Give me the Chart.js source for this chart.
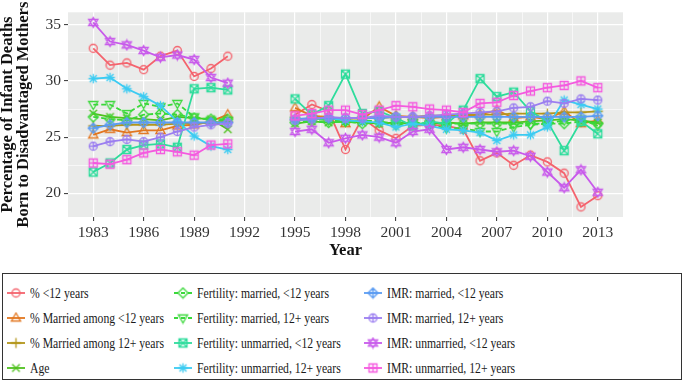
<!DOCTYPE html>
<html>
<head>
<meta charset="utf-8">
<script src="https://cdn.jsdelivr.net/npm/chart.js@4.4.1/dist/chart.umd.min.js"></script>
<style>
body { margin: 0; background: #fff; font-family: "Liberation Serif", serif; }
#wrap { position: relative; width: 685px; height: 382px; }
#chartBox { position: absolute; left: 0; top: 0; width: 685px; height: 270px; }
#legend { position: absolute; left: 2px; top: 273px; width: 680px; height: 107px; border: 1px solid #333; box-sizing: border-box; }
.item { position: absolute; height: 20px; display: flex; align-items: center; white-space: nowrap; }
.item canvas { margin-right: 5px; }
.item span { display: inline-block; font-size: 15px; color: #1a1a1a; transform: scaleX(0.78); transform-origin: left center; }
</style>
</head>
<body>
<div id="wrap">
  <div id="chartBox"><canvas id="chart"></canvas></div>
  <div id="legend"></div>
</div>
<script>
// years on the x axis (no data for 1992-1994)
const years = [1983,1984,1985,1986,1987,1988,1989,1990,1991,1992,1993,1994,1995,1996,1997,1998,1999,2000,2001,2002,2003,2004,2005,2006,2007,2008,2009,2010,2011,2012,2013];

const seriesNames = [
  '% <12 years',
  '% Married among <12 years',
  '% Married among 12+ years',
  'Age',
  'Fertility: married, <12 years',
  'Fertility: married, 12+ years',
  'Fertility: unmarried, <12 years',
  'Fertility: unmarried, 12+ years',
  'IMR: married, <12 years',
  'IMR: married, 12+ years',
  'IMR: unmarried, <12 years',
  'IMR: unmarried, 12+ years'
];

// values
const pctUnder12      = [32.9,31.4,31.6,31.0,32.2,32.7,30.4,31.1,32.2, null,null,null, 27.0,27.9,27.3,23.9,26.7,25.6,24.9,26.0,26.1,26.0,25.7,22.9,23.6,22.5,23.4,22.8,21.8,18.8,19.8];
const marriedUnder12  = [25.2,25.7,25.4,25.6,25.6,26.0,26.1,26.4,27.0, null,null,null, 27.6,26.9,26.8,26.2,26.6,27.7,26.9,26.8,26.7,26.8,26.9,27.0,27.4,26.7,26.8,26.6,27.3,26.2,26.5];
const married12plus   = [26.0,26.0,26.1,26.1,26.1,26.2,26.2,26.3,26.4, null,null,null, 26.5,26.6,26.6,26.6,26.7,26.7,26.8,26.8,26.9,26.9,27.0,27.0,27.0,27.1,27.1,27.1,27.2,27.2,27.3];
const age             = [27.1,26.8,26.7,26.6,26.5,26.8,26.7,26.6,25.7, null,null,null, 26.2,26.4,26.3,26.4,26.3,26.2,26.3,26.2,26.2,26.3,26.2,26.3,26.3,26.3,26.4,26.5,26.6,26.5,26.3];
const fertMarUnder12  = [26.8,26.6,26.5,27.0,27.1,27.0,26.7,26.6,26.6, null,null,null, 26.3,26.4,26.3,26.4,26.2,26.3,26.1,26.3,26.2,26.2,26.2,26.2,26.2,26.2,26.2,26.2,26.2,26.4,26.2];
const fertMar12plus   = [27.9,27.9,27.1,28.0,27.7,28.0,26.8,26.5,26.5, null,null,null, 26.5,26.6,26.5,26.4,26.5,26.4,26.2,26.3,26.1,25.8,25.8,25.5,25.5,25.9,26.1,26.2,26.5,26.6,26.0];
const fertUnmUnder12  = [21.9,22.7,23.9,24.3,24.4,24.1,29.3,29.4,29.2, null,null,null, 28.4,27.0,27.8,30.6,27.1,27.3,26.7,26.0,26.4,26.2,27.4,30.2,28.6,29.0,27.3,26.4,23.8,26.4,25.3];
const fertUnm12plus   = [30.2,30.3,29.3,28.6,27.8,26.4,25.1,24.2,23.9, null,null,null, 26.5,26.6,26.7,26.5,26.4,26.3,25.9,26.2,26.0,25.7,25.6,25.4,24.7,25.2,25.2,25.9,28.3,27.9,27.5];
const imrMarUnder12   = [25.8,26.1,26.3,26.3,26.3,26.3,26.3,26.3,26.3, null,null,null, 26.6,26.7,26.7,26.7,26.7,26.7,26.8,26.8,26.8,26.8,26.8,26.8,26.8,26.8,26.8,26.8,26.8,26.8,26.9];
const imrMar12plus    = [24.2,24.6,24.8,24.6,25.0,25.5,25.9,26.1,26.2, null,null,null, 26.5,26.6,26.8,26.7,26.7,26.9,26.8,26.8,26.9,27.0,27.1,27.2,27.3,27.6,27.7,28.2,28.0,28.4,28.3];
const imrUnmUnder12   = [35.2,33.5,33.2,32.7,32.1,32.3,31.9,30.3,29.8, null,null,null, 25.5,25.7,24.5,24.9,25.2,25.0,24.5,25.5,25.7,23.9,24.1,23.9,23.7,23.8,23.3,21.9,20.5,22.1,20.1];
const imrUnm12plus    = [22.7,22.6,23.0,23.6,23.9,23.7,23.4,24.3,24.4, null,null,null, 26.9,27.1,27.4,27.4,27.0,27.4,27.8,27.7,27.5,27.4,27.2,28.0,28.1,28.7,29.1,29.4,29.6,30.0,29.4];

const seriesValues = [pctUnder12, marriedUnder12, married12plus, age, fertMarUnder12, fertMar12plus,
  fertUnmUnder12, fertUnm12plus, imrMarUnder12, imrMar12plus, imrUnmUnder12, imrUnm12plus];

const xTickLabels = [1983,1986,1989,1992,1995,1998,2001,2004,2007,2010,2013];
const xMinorTicks = [1984.5,1987.5,1990.5,1993.5,1996.5,1999.5,2002.5,2005.5,2008.5,2011.5];
const yTickLabels = [20,25,30,35];
const yMinorTicks = [22.5,27.5,32.5];

// styles
const colors = ['#F4636D','#E2761F','#B3961B','#4FC11D','#3AD83A','#3AD83A','#2EDC9C','#3CCBF2','#5B9CF2','#9B7EF0','#C85AEB','#F45ADF'];
const shapes = ['circle','triUp','plus','cross','diamond','triDown','squareX','asterisk','diamondPlus','circlePlus','star','squarePlus'];
const dashed = [false,false,false,false,true,true,false,false,false,false,false,false];

function shapeCanvas(kind, color) {
  const c = document.createElement('canvas');
  c.width = 13; c.height = 13;
  const g = c.getContext('2d');
  const m = 6.5;
  g.strokeStyle = color;
  g.lineWidth = 1.3;
  g.beginPath();
  const plus = r => { g.moveTo(m - r, m); g.lineTo(m + r, m); g.moveTo(m, m - r); g.lineTo(m, m + r); };
  const cross = r => { g.moveTo(m - r, m - r); g.lineTo(m + r, m + r); g.moveTo(m + r, m - r); g.lineTo(m - r, m + r); };
  const circle = r => { g.moveTo(m + r, m); g.arc(m, m, r, 0, Math.PI * 2); };
  const triUp = () => { g.moveTo(m, m - 5); g.lineTo(m + 4.6, m + 3); g.lineTo(m - 4.6, m + 3); g.closePath(); };
  const triDown = () => { g.moveTo(m, m + 5); g.lineTo(m + 4.6, m - 3); g.lineTo(m - 4.6, m - 3); g.closePath(); };
  const diamond = () => { g.moveTo(m, m - 5); g.lineTo(m + 5, m); g.lineTo(m, m + 5); g.lineTo(m - 5, m); g.closePath(); };
  switch (kind) {
    case 'circle': circle(4); break;
    case 'triUp': triUp(); break;
    case 'plus': plus(5); break;
    case 'cross': cross(3.8); break;
    case 'diamond': diamond(); break;
    case 'triDown': triDown(); break;
    case 'squareX': g.rect(m - 4, m - 4, 8, 8); cross(4); break;
    case 'asterisk': plus(4.8); cross(3.5); break;
    case 'diamondPlus': diamond(); plus(5); break;
    case 'circlePlus': circle(4); plus(4); break;
    case 'star': triUp(); triDown(); break;
    case 'squarePlus': g.rect(m - 4, m - 4, 8, 8); plus(4); break;
  }
  g.stroke();
  return c;
}

const pointImgs = shapes.map((s, i) => shapeCanvas(s, colors[i]));

const datasets = seriesNames.map((name, i) => ({
  label: name,
  data: years.map((y, j) => ({ x: y, y: seriesValues[i][j] })),
  borderColor: colors[i],
  backgroundColor: colors[i],
  borderWidth: 1.8,
  borderDash: dashed[i] ? [5, 3] : [],
  pointStyle: pointImgs[i],
  pointRadius: 5,
  spanGaps: false,
  tension: 0,
  order: 11 - i
}));

const panelBg = {
  id: 'panelBg',
  beforeDraw(chart) {
    const a = chart.chartArea;
    const ctx = chart.ctx;
    ctx.save();
    ctx.fillStyle = '#EAEBEA';
    ctx.fillRect(a.left, a.top, a.right - a.left, a.bottom - a.top);
    ctx.restore();
  }
};

const tickFont = { family: 'Liberation Serif', size: 15.5 };

new Chart(document.getElementById('chart'), {
  type: 'line',
  data: { datasets },
  plugins: [panelBg],
  options: {
    responsive: true,
    maintainAspectRatio: false,
    animation: false,
    events: [],
    layout: { padding: { top: 4, right: 62, left: 0, bottom: 0 } },
    plugins: { legend: { display: false }, tooltip: { enabled: false } },
    scales: {
      x: {
        type: 'linear',
        min: 1981.5,
        max: 2014.5,
        afterBuildTicks: s => { s.ticks = xMinorTicks.concat(xTickLabels).sort((a, b) => a - b).map(v => ({ value: v })); },
        afterFit: s => { s.height = 53; },
        border: { display: false },
        grid: {
          color: '#ffffff',
          lineWidth: c => xTickLabels.includes(c.tick.value) ? 1.2 : 0.6,
          tickColor: c => xTickLabels.includes(c.tick.value) ? '#333333' : 'rgba(0,0,0,0)',
          tickLength: 4,
          tickWidth: 1
        },
        ticks: {
          autoSkip: false,
          maxRotation: 0,
          padding: 3,
          color: '#333333',
          font: tickFont,
          callback: v => xTickLabels.includes(v) ? String(v) : ''
        },
        title: {
          display: true,
          text: 'Year',
          color: '#111',
          font: { family: 'Liberation Serif', size: 16.5, weight: 'bold' },
          padding: { top: 0, bottom: 9 }
        }
      },
      y: {
        min: 17.9,
        max: 36.1,
        afterBuildTicks: s => { s.ticks = yTickLabels.concat(yMinorTicks).sort((a, b) => a - b).map(v => ({ value: v })); },
        afterFit: s => { s.width = 68; },
        border: { display: false },
        grid: {
          color: '#ffffff',
          lineWidth: c => yTickLabels.includes(c.tick.value) ? 1.2 : 0.6,
          tickColor: c => yTickLabels.includes(c.tick.value) ? '#333333' : 'rgba(0,0,0,0)',
          tickLength: 4,
          tickWidth: 1
        },
        ticks: {
          autoSkip: false,
          padding: 3,
          color: '#333333',
          font: tickFont,
          callback: v => yTickLabels.includes(v) ? String(v) : ''
        },
        title: {
          display: true,
          text: ['Percentage of Infant Deaths', 'Born to Disadvantaged Mothers'],
          color: '#111',
          font: { family: 'Liberation Serif', size: 16.5, weight: 'bold', lineHeight: 0.95 },
          padding: { top: 0, bottom: 0 }
        }
      }
    }
  }
});

// legend: 3 columns x 4 rows, filled column by column
const legendBox = document.getElementById('legend');
const colX = [4, 171, 361];
const rowY = [9, 34, 59, 84];
seriesNames.forEach((name, i) => {
  const col = Math.floor(i / 4), row = i % 4;
  const item = document.createElement('div');
  item.className = 'item';
  item.style.left = colX[col] + 'px';
  item.style.top = rowY[row] + 'px';
  const key = document.createElement('canvas');
  key.width = 18; key.height = 14;
  const g = key.getContext('2d');
  g.strokeStyle = colors[i];
  g.lineWidth = 1.8;
  if (dashed[i]) g.setLineDash([4, 3]);
  g.beginPath(); g.moveTo(0, 7); g.lineTo(18, 7); g.stroke();
  g.setLineDash([]);
  g.drawImage(pointImgs[i], 9 - 6.5, 7 - 6.5);
  item.appendChild(key);
  const label = document.createElement('span');
  label.textContent = name;
  item.appendChild(label);
  legendBox.appendChild(item);
});
</script>
</body>
</html>
